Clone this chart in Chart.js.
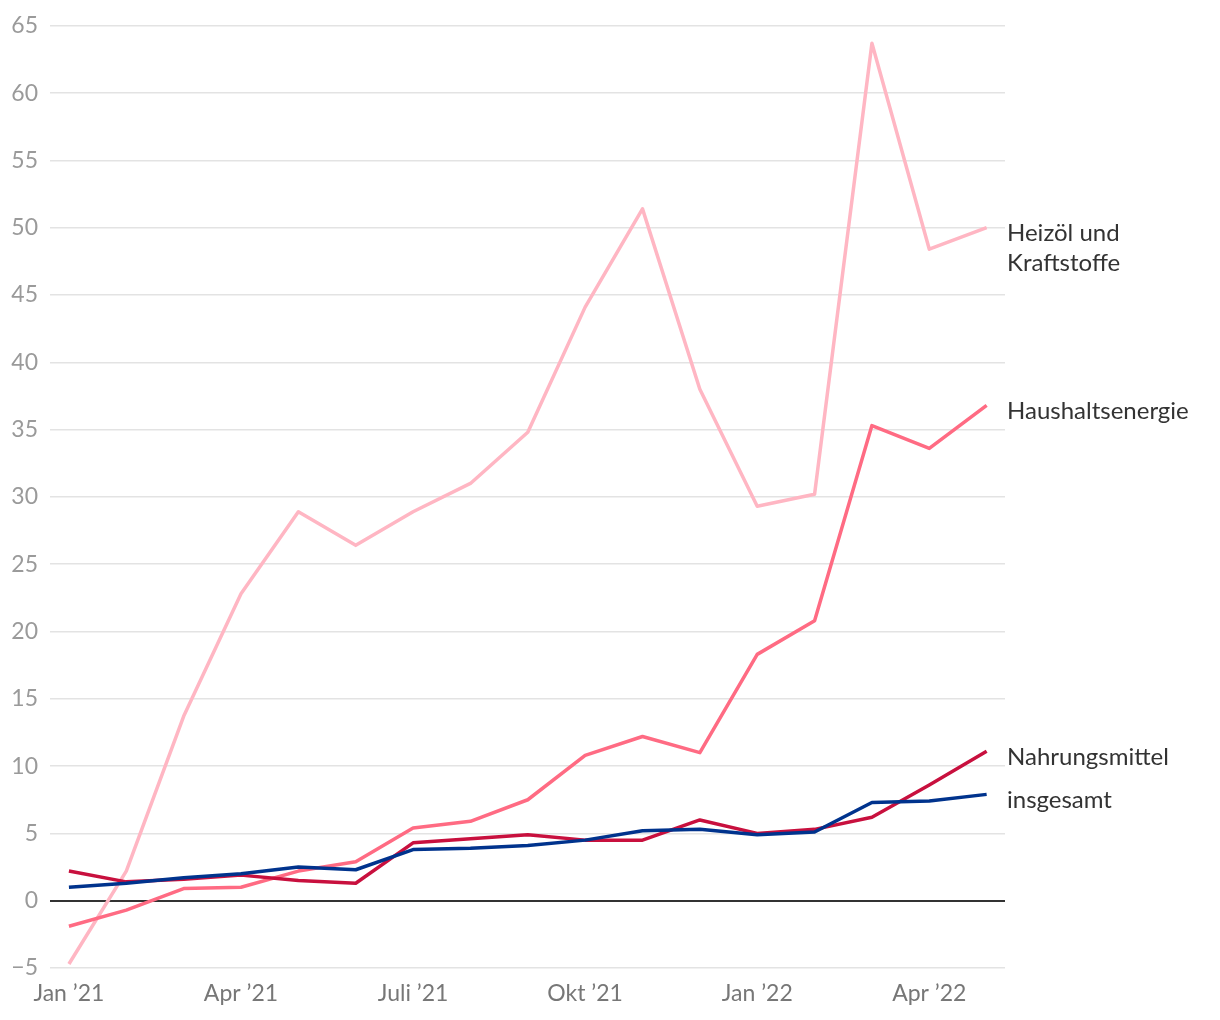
<!DOCTYPE html>
<html lang="de">
<head>
  <meta charset="UTF-8">
  <title>Inflation</title>
  <script src="https://cdn.jsdelivr.net/npm/chart.js"></script>
  <style>
    body { margin: 0; background: #fff; }
    #wrap { width: 1220px; height: 1020px; }
  </style>
</head>
<body>
  <div id="wrap"><canvas id="chart"></canvas></div>

  <script>
    const monate = ['Jan ’21','Feb ’21','Mär ’21','Apr ’21','Mai ’21','Juni ’21','Juli ’21','Aug ’21','Sep ’21',
                    'Okt ’21','Nov ’21','Dez ’21','Jan ’22','Feb ’22','Mär ’22','Apr ’22','Mai ’22'];
    const tickIndex = [0, 3, 6, 9, 12, 15];
    const tickLabels = ['Jan ’21', 'Apr ’21', 'Juli ’21', 'Okt ’21', 'Jan ’22', 'Apr ’22'];

    const heizoel = [-4.7, 2.2, 13.7, 22.8, 28.9, 26.4, 28.9, 31.0, 34.8, 44.1, 51.4, 38.0, 29.3, 30.2, 63.7, 48.4, 50.0];
    const haushalt = [-1.9, -0.7, 0.9, 1.0, 2.2, 2.9, 5.4, 5.9, 7.5, 10.8, 12.2, 11.0, 18.3, 20.8, 35.3, 33.6, 36.8];
    const nahrung = [2.2, 1.4, 1.6, 1.9, 1.5, 1.3, 4.3, 4.6, 4.9, 4.5, 4.5, 6.0, 5.0, 5.3, 6.2, 8.6, 11.1];
    const gesamt = [1.0, 1.3, 1.7, 2.0, 2.5, 2.3, 3.8, 3.9, 4.1, 4.5, 5.2, 5.3, 4.9, 5.1, 7.3, 7.4, 7.9];

    const toPoints = arr => arr.map((v, i) => ({ x: i, y: v }));

    // Beschriftung rechts neben dem letzten Punkt jeder Linie
    const endLabels = {
      id: 'endLabels',
      afterDatasetsDraw(chart) {
        const ctx = chart.ctx;
        const y = chart.scales.y;
        ctx.save();
        ctx.font = '24px Lato';
        ctx.fillStyle = '#333';
        ctx.textAlign = 'left';
        ctx.textBaseline = 'middle';
        chart.data.datasets.forEach(ds => {
          const last = ds.data[ds.data.length - 1];
          const py = y.getPixelForValue(last.y) + 6;
          const lines = Array.isArray(ds.label) ? ds.label : [ds.label];
          lines.forEach((t, k) => ctx.fillText(t, chart.chartArea.right + 2, py + k * 30));
        });
        ctx.restore();
      }
    };

    new Chart(document.getElementById('chart'), {
      type: 'line',
      data: {
        datasets: [
          { label: 'insgesamt', data: toPoints(gesamt), borderColor: '#00338d' },
          { label: 'Nahrungsmittel', data: toPoints(nahrung), borderColor: '#c8103e' },
          { label: 'Haushaltsenergie', data: toPoints(haushalt), borderColor: '#ff6b83' },
          { label: ['Heizöl und', 'Kraftstoffe'], data: toPoints(heizoel), borderColor: '#ffb6c3' }
        ]
      },
      options: {
        responsive: true,
        maintainAspectRatio: false,
        animation: false,
        layout: { padding: { top: 19, right: 215, left: 0, bottom: 0 } },
        elements: {
          line: { borderWidth: 3.5, tension: 0, borderJoinStyle: 'round' },
          point: { radius: 0 }
        },
        plugins: {
          legend: { display: false },
          tooltip: { enabled: false }
        },
        scales: {
          x: {
            type: 'linear',
            min: -0.33,
            max: 16.32,
            afterBuildTicks: s => { s.ticks = tickIndex.map(v => ({ value: v })); },
            afterFit: s => { s.height = 52; },
            grid: { display: false, drawTicks: false },
            border: { display: false },
            ticks: {
              padding: 12,
              color: '#777',
              font: { family: 'Lato', size: 23 },
              maxRotation: 0,
              callback: v => tickLabels[tickIndex.indexOf(v)]
            }
          },
          y: {
            min: -5,
            max: 65,
            afterFit: s => { s.width = 50; },
            grid: {
              drawTicks: false,
              color: c => c.tick.value === 0 ? '#333' : '#e3e3e3',
              lineWidth: c => c.tick.value === 0 ? 2 : 1.5
            },
            border: { display: false },
            ticks: {
              stepSize: 5,
              padding: 12,
              color: '#9a9a9a',
              font: { family: 'Lato', size: 23 },
              callback: v => v < 0 ? '−' + Math.abs(v) : v
            }
          }
        }
      },
      plugins: [endLabels]
    });
  </script>
</body>
</html>
